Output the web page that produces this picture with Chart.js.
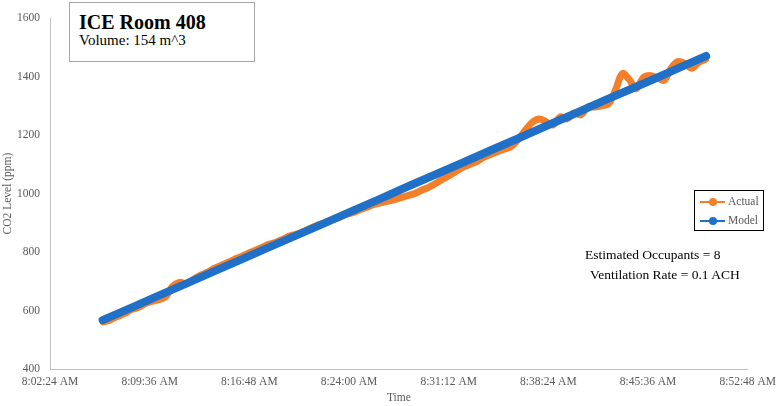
<!DOCTYPE html>
<html>
<head>
<meta charset="utf-8">
<script src="https://cdn.jsdelivr.net/npm/chart.js@4/dist/chart.umd.min.js"></script>
<style>
  html, body { margin: 0; padding: 0; background: #fff; }
  #wrap { position: relative; width: 782px; height: 406px; font-family: "Liberation Serif", "Times New Roman", serif; }
  #c { position: absolute; left: 0; top: 0; }
  .ov { position: absolute; white-space: nowrap; }
  #titleBox { left: 69px; top: 2px; width: 184px; height: 58px; border: 1px solid #a6a6a6; background: #fff; }
  #legend { left: 694px; top: 190px; width: 68px; height: 39px; border: 1px solid #000; background: #fff; }
  .lg-item { position: absolute; left: 5px; height: 14px; }
  .lg-line { position: absolute; left: 0; top: 6px; width: 25px; height: 2px; }
  .lg-dot { position: absolute; left: 9px; top: 3px; width: 8px; height: 8px; border-radius: 50%; }
  .lg-text { position: absolute; left: 28px; top: -1px; font-size: 11.5px; line-height: 14px; color: #595959; }
</style>
</head>
<body>
<div id="wrap">
  <canvas id="c" width="782" height="406"></canvas>
  <div class="ov" id="titleBox"></div>
  <div class="ov" id="t1" style="left:79px; top:12px; font-size:20px; line-height:20px; font-weight:bold; color:#000;"></div>
  <div class="ov" id="t2" style="left:79px; top:33px; font-size:15px; line-height:15px; color:#000;"></div>
  <div class="ov" id="legend"></div>
  <div class="ov" id="n1" style="left:585px; top:248px; font-size:13.5px; line-height:13.5px; color:#000;"></div>
  <div class="ov" id="n2" style="left:590px; top:268px; font-size:13.5px; line-height:13.5px; color:#000;"></div>
</div>
<script>
// ---------- data ----------
const chartTitle = "ICE Room 408";
const chartSubtitle = "Volume: 154 m^3";
const notes = ["Estimated Occupants = 8", "Ventilation Rate = 0.1 ACH"];
const seriesNames = ["Actual", "Model"];
const xAxisTitle = "Time";
const yAxisTitle = "CO2 Level (ppm)";
const axisStart = "8:02:24";
const xTickLabels = ["8:02:24 AM", "8:09:36 AM", "8:16:48 AM", "8:24:00 AM", "8:31:12 AM", "8:38:24 AM", "8:45:36 AM", "8:52:48 AM"];
const yTickValues = [400, 600, 800, 1000, 1200, 1400, 1600];

const actualTimes = [
  "8:06:15","8:06:45","8:07:15","8:07:45","8:08:15","8:08:45","8:09:15","8:09:45","8:10:15","8:10:45",
  "8:11:15","8:11:45","8:12:15","8:12:45","8:13:15","8:13:45","8:14:15","8:14:45","8:15:15","8:15:45",
  "8:16:15","8:16:45","8:17:15","8:17:45","8:18:15","8:18:45","8:19:15","8:19:45","8:20:15","8:20:45",
  "8:21:15","8:21:45","8:22:15","8:22:45","8:23:15","8:23:45","8:24:15","8:24:45","8:25:15","8:25:45",
  "8:26:15","8:26:45","8:27:15","8:27:45","8:28:15","8:28:45","8:29:15","8:29:45","8:30:15","8:30:45",
  "8:31:15","8:31:45","8:32:15","8:32:45","8:33:15","8:33:45","8:34:15","8:34:45","8:35:15","8:35:45",
  "8:36:15","8:36:45","8:37:15","8:37:45","8:38:15","8:38:45","8:39:15","8:39:45","8:40:15","8:40:45",
  "8:41:15","8:41:45","8:42:15","8:42:45","8:43:15","8:43:45","8:44:15","8:44:45","8:45:15","8:45:45",
  "8:46:15","8:46:45","8:47:15","8:47:45","8:48:15","8:48:45","8:49:15","8:49:45"
];
const actualValues = [
  561, 568, 579, 589, 602, 610, 623, 631, 637, 647,
  682, 696, 692, 706, 720, 730, 744, 754, 764, 775,
  785, 796, 806, 816, 827, 834, 844, 855, 861, 871,
  882, 892, 900, 910, 917, 928, 934, 944, 952, 962,
  968, 973, 979, 986, 993, 1000, 1011, 1021, 1034, 1049,
  1062, 1076, 1090, 1100, 1110, 1124, 1134, 1144, 1152, 1162,
  1186, 1217, 1244, 1255, 1245, 1234, 1262, 1255, 1275, 1269,
  1296, 1296, 1300, 1307, 1354, 1410, 1389, 1358, 1396, 1403,
  1396, 1387, 1427, 1451, 1445, 1428, 1448, 1459
];

const modelTimes = ["8:06:12","8:08:12","8:10:12","8:12:12","8:14:12","8:16:12","8:18:12","8:20:12","8:22:12","8:24:12","8:26:12","8:28:12","8:30:12","8:32:12","8:34:12","8:36:12","8:38:12","8:40:12","8:42:12","8:44:12","8:46:12","8:48:12","8:49:48"];
const modelValues = [567, 608, 650, 691, 733, 774, 816, 857, 898, 940, 981, 1023, 1064, 1105, 1147, 1188, 1230, 1271, 1313, 1354, 1395, 1437, 1470];

// ---------- helpers ----------
function toSec(s) { const p = s.split(":").map(Number); return p[0]*3600 + p[1]*60 + p[2]; }
const t0 = toSec(axisStart);
const rel = s => toSec(s) - t0;
const xSpanSec = toSec("8:52:48") - t0;
const xStepSec = toSec("8:09:36") - t0;

const ORANGE = "#F47F2A";
const BLUE = "#1F70C6";
const FONT = "'Liberation Serif', 'Times New Roman', serif";

// ---------- overlays ----------
document.getElementById("t1").textContent = chartTitle;
document.getElementById("t2").textContent = chartSubtitle;
document.getElementById("n1").textContent = notes[0];
document.getElementById("n2").textContent = notes[1];
const lg = document.getElementById("legend");
[ORANGE, BLUE].forEach((col, i) => {
  const it = document.createElement("div");
  it.className = "lg-item";
  it.style.top = (4 + i * 19) + "px";
  it.innerHTML = '<div class="lg-line" style="background:' + col + '"></div><div class="lg-dot" style="background:' + col + '"></div><div class="lg-text"></div>';
  it.querySelector(".lg-text").textContent = seriesNames[i];
  lg.appendChild(it);
});

// ---------- chart ----------
const ctx = document.getElementById("c").getContext("2d");
new Chart(ctx, {
  type: "line",
  data: {
    datasets: [
      {
        label: seriesNames[0],
        data: actualTimes.map((t, i) => ({ x: rel(t), y: actualValues[i] })),
        borderColor: ORANGE, backgroundColor: ORANGE,
        borderWidth: 7, pointRadius: 0, tension: 0.35,
        borderCapStyle: "round", borderJoinStyle: "round",
        order: 2
      },
      {
        label: seriesNames[1],
        data: modelTimes.map((t, i) => ({ x: rel(t), y: modelValues[i] })),
        borderColor: BLUE, backgroundColor: BLUE,
        borderWidth: 8, pointRadius: 0, tension: 0,
        borderCapStyle: "round", borderJoinStyle: "round",
        order: 1
      }
    ]
  },
  options: {
    responsive: false,
    animation: false,
    events: [],
    layout: { padding: { left: 0, top: 18, right: 30, bottom: 0 } },
    plugins: { legend: { display: false }, tooltip: { enabled: false }, title: { display: false } },
    scales: {
      x: {
        type: "linear",
        min: 0, max: xSpanSec,
        afterBuildTicks: s => { s.ticks = xTickLabels.map((_, i) => ({ value: i * xStepSec })); },
        afterFit: s => { s.height = 37; },
        grid: { display: false, drawTicks: false },
        border: { display: true, color: "#BFBFBF", width: 1 },
        ticks: {
          padding: 6, maxRotation: 0, autoSkip: false,
          color: "#595959", font: { family: FONT, size: 11.5 },
          callback: (v, i) => xTickLabels[i]
        },
        title: { display: true, text: xAxisTitle, color: "#595959", font: { family: FONT, size: 11.5 }, padding: { top: 1.5, bottom: 1.5 } }
      },
      y: {
        min: yTickValues[0], max: yTickValues[yTickValues.length - 1],
        afterBuildTicks: s => { s.ticks = yTickValues.map(v => ({ value: v })); },
        afterFit: s => { s.width = 50; },
        grid: { display: false, drawTicks: false },
        border: { display: true, color: "#BFBFBF", width: 1 },
        ticks: { padding: 10, color: "#595959", font: { family: FONT, size: 11.5 }, callback: v => String(v) },
        title: { display: true, text: yAxisTitle, color: "#595959", font: { family: FONT, size: 11.5 }, padding: { top: 1.5, bottom: 0 } }
      }
    }
  }
});
</script>
</body>
</html>
